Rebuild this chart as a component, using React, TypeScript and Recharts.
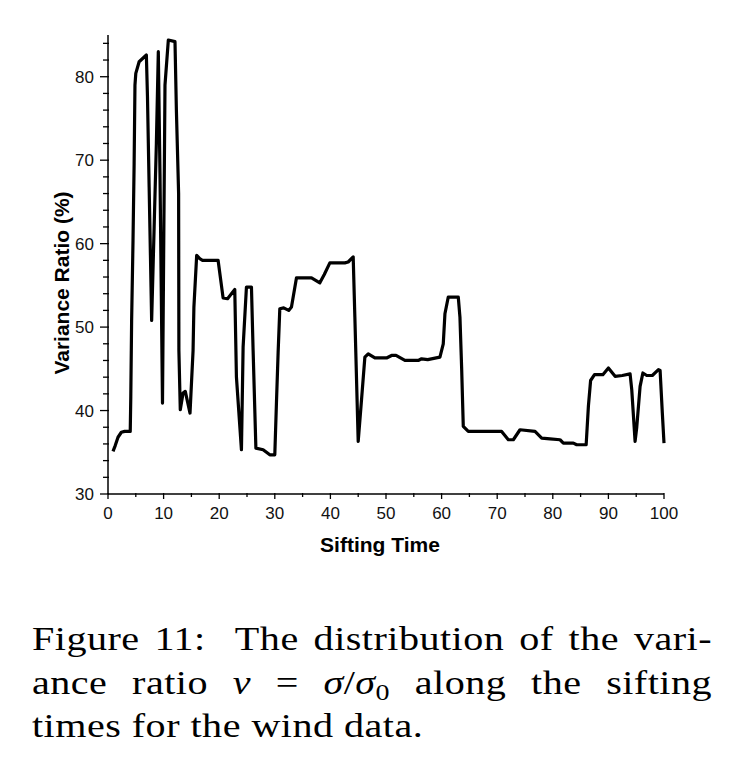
// App.tsx

import { LineChart, Line, XAxis, YAxis } from "recharts";

// sifting time (x) and variance ratio in % (y)
const siftTimes = [
  0.9, 1.3, 1.8, 2.4, 3.0, 4.0, 4.1, 4.25, 4.5, 4.7, 4.85, 5.0, 5.6, 6.9,
  7.1, 7.4, 7.85, 8.3, 8.7, 9.05, 9.35, 9.8, 10.25, 10.85, 12.05, 12.3,
  12.7, 12.75, 13.0, 13.5, 13.9, 14.75, 15.3, 15.45, 15.95, 16.5, 17.0,
  19.8, 20.7, 21.5, 22.8, 23.1, 24.0, 24.3, 24.9, 25.8, 26.1, 26.6, 27.9,
  29.1, 30.0, 30.3, 30.6, 30.9, 31.6, 32.5, 33.0, 33.9, 36.6, 38.1, 38.9,
  39.9, 42.6, 43.2, 44.1, 44.4, 45.0, 45.6, 46.2, 46.8, 48.0, 50.1, 51.0,
  51.8, 53.4, 55.8, 56.4, 57.5, 59.7, 60.3, 60.6, 61.2, 63.0, 63.3, 63.6,
  63.9, 64.8, 70.8, 72.0, 72.9, 74.1, 76.8, 78.0, 79.5, 81.3, 81.9, 83.7,
  84.3, 86.0, 86.4, 86.8, 87.5, 89.0, 90.0, 91.2, 92.5, 93.9, 94.2, 94.8,
  95.1, 95.7, 96.2, 96.9, 97.9, 99.0, 99.3, 99.7, 100,
];

const varianceRatio = [
  35.1, 35.8, 36.8, 37.4, 37.5, 37.5, 41.7, 50.8, 60.4, 69.6, 79.0, 80.4,
  81.8, 82.6, 77.6, 66.8, 50.8, 62.0, 72.0, 83.0, 68.4, 40.9, 79.0, 84.4,
  84.2, 76.0, 66.0, 47.2, 40.1, 42.1, 42.3, 39.7, 47.2, 52.4, 58.6, 58.2,
  58.0, 58.0, 53.5, 53.4, 54.5, 44.0, 35.3, 47.6, 54.8, 54.8, 47.2, 35.5,
  35.3, 34.7, 34.7, 41.0, 47.0, 52.2, 52.3, 52.0, 52.4, 55.9, 55.9, 55.3,
  56.3, 57.7, 57.7, 57.8, 58.4, 51.2, 36.3, 41.3, 46.4, 46.8, 46.3, 46.3,
  46.6, 46.6, 46.0, 46.0, 46.2, 46.1, 46.4, 48.0, 51.6, 53.6, 53.6, 51.2,
  45.2, 38.1, 37.5, 37.5, 36.5, 36.5, 37.7, 37.5, 36.7, 36.6, 36.5, 36.1,
  36.1, 35.9, 35.9, 40.5, 43.6, 44.3, 44.3, 45.1, 44.1, 44.2, 44.4, 42.5,
  36.3, 38.0, 42.9, 44.5, 44.2, 44.2, 44.9, 44.8, 39.7, 36.1,
];

const xTicks = [0, 5, 10, 15, 20, 25, 30, 35, 40, 45, 50, 55, 60, 65, 70, 75, 80, 85, 90, 95, 100];
const yTicks = [
  30, 32, 34, 36, 38, 40, 42, 44, 46, 48, 50, 52, 54, 56, 58, 60, 62, 64,
  66, 68, 70, 72, 74, 76, 78, 80, 82, 84,
];

const data = siftTimes.map((t, i) => ({ t, v: varianceRatio[i] }));

const sans = "'Liberation Sans', Arial, sans-serif";

const XTick = ({ x, y, payload }: any) => {
  const major = payload.value % 10 === 0;
  return (
    <g>
      <line x1={x} x2={x} y1={y - 1} y2={y + (major ? 5 : 3)} stroke="#000" strokeWidth={1.3} />
      {major && (
        <text x={x} y={y + 25} textAnchor="middle" fontSize={17} fontFamily={sans} fill="#111">
          {payload.value}
        </text>
      )}
    </g>
  );
};

const YTick = ({ x, y, payload }: any) => {
  const major = payload.value % 10 === 0;
  return (
    <g>
      <line x1={x - (major ? 8 : 5)} x2={x + 1} y1={y} y2={y} stroke="#000" strokeWidth={1.3} />
      {major && (
        <text x={x - 14} y={y + 6} textAnchor="end" fontSize={17} fontFamily={sans} fill="#111">
          {payload.value}
        </text>
      )}
    </g>
  );
};

const XTitle = ({ viewBox }: any) => (
  <text
    x={viewBox.x + viewBox.width / 2 - 6}
    y={552}
    textAnchor="middle"
    fontSize={21}
    fontWeight="bold"
    fontFamily={sans}
    fill="#000"
  >
    Sifting Time
  </text>
);

const YTitle = () => (
  <text
    x={0}
    y={0}
    transform="translate(69, 283) rotate(-90)"
    textAnchor="middle"
    fontSize={21}
    fontWeight="bold"
    fontFamily={sans}
    fill="#000"
  >
    Variance Ratio (%)
  </text>
);

const lineStyle = (last: boolean): React.CSSProperties => ({
  whiteSpace: "nowrap",
  textAlign: last ? "left" : "justify",
  textAlignLast: last ? "left" : "justify",
});

const stretch = 1.18;

const App = () => {
  return (
    <div
      style={{
        position: "absolute",
        left: 0,
        top: 0,
        width: 738,
        height: 765,
        background: "#fff",
        overflow: "hidden",
      }}
    >
      <div style={{ position: "absolute", left: 0, top: 0 }}>
        <LineChart width={738} height={580} data={data} margin={{ top: 35, right: 74, bottom: 0, left: 0 }}>
          <XAxis
            dataKey="t"
            type="number"
            domain={[0, 100]}
            ticks={xTicks}
            interval={0}
            height={86}
            tickSize={0}
            tickMargin={0}
            tickLine={false}
            tick={<XTick />}
            axisLine={{ stroke: "#000", strokeWidth: 1.5 }}
            label={<XTitle />}
          />
          <YAxis
            type="number"
            domain={[30, 85]}
            ticks={yTicks}
            interval={0}
            width={108}
            tickSize={0}
            tickMargin={0}
            tickLine={false}
            tick={<YTick />}
            axisLine={{ stroke: "#000", strokeWidth: 1.5 }}
            label={<YTitle />}
          />
          <Line
            type="linear"
            dataKey="v"
            stroke="#000"
            strokeWidth={3.2}
            strokeLinejoin="round"
            dot={false}
            isAnimationActive={false}
          />
        </LineChart>
      </div>
      <div
        style={{
          position: "absolute",
          left: 32,
          top: 617,
          width: 680 / stretch,
          transform: `scaleX(${stretch})`,
          transformOrigin: "0 0",
          fontFamily: "'Liberation Serif', 'Times New Roman', serif",
          fontSize: 34,
          letterSpacing: "0.4px",
          lineHeight: "43.5px",
          color: "#000",
        }}
      >
        <div style={lineStyle(false)}>Figure 11:&nbsp; The distribution of the vari-</div>
        <div style={lineStyle(false)}>
          ance ratio <i>ν</i> = <i>σ</i>/<i>σ</i>
          <sub style={{ fontSize: "0.7em", verticalAlign: "-0.25em", lineHeight: 0 }}>0</sub> along the sifting
        </div>
        <div style={lineStyle(true)}>times for the wind data.</div>
      </div>
    </div>
  );
};

export default App;
